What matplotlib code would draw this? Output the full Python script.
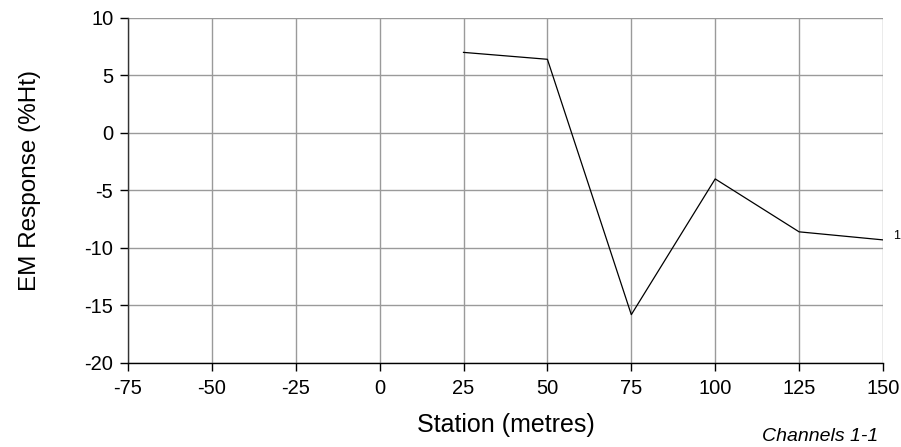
import matplotlib
matplotlib.use("Agg")
import matplotlib.pyplot as plt

plt.rcParams["font.family"] = ["Liberation Sans", "DejaVu Sans"]
plt.rcParams["axes.unicode_minus"] = False

# Data
stations = [25, 50, 75, 100, 125, 150]
response = [7.0, 6.4, -15.8, -4.0, -8.6, -9.3]
channel_label = "1"

x_ticks = [-75, -50, -25, 0, 25, 50, 75, 100, 125, 150]
y_ticks = [-20, -15, -10, -5, 0, 5, 10]

fig = plt.figure(figsize=(9.01, 4.47), dpi=100)
ax = fig.add_axes([0.142, 0.188, 0.838, 0.772])

ax.plot(stations, response, color="black", linewidth=0.9, zorder=3)
ax.text(stations[-1] + 3, response[-1] + 0.3, channel_label, fontsize=9,
        ha="left", va="center")

ax.set_xlim(-75, 150)
ax.set_ylim(-20, 10)
ax.set_xticks(x_ticks)
ax.set_yticks(y_ticks)
ax.grid(True, color="#9a9a9a", linewidth=1.0)
ax.set_axisbelow(True)

for side in ["top", "right"]:
    ax.spines[side].set_visible(False)
ax.spines["left"].set_color("#333333")
ax.spines["bottom"].set_color("black")
ax.spines["left"].set_linewidth(1.0)
ax.spines["bottom"].set_linewidth(1.0)

ax.tick_params(direction="out", length=5.5, width=1.0, labelsize=14.5, pad=5)
ax.tick_params(axis="x", pad=6)

ax.set_xlabel("Station (metres)", fontsize=18, labelpad=11)
ax.set_ylabel("EM Response (%Ht)", fontsize=17.5, labelpad=0)
ax.yaxis.set_label_coords(-0.115, 0.53)

fig.text(0.975, 0.013, "Channels 1-1", fontsize=14, style="italic", ha="right")

fig.savefig("out.png", dpi=100)
